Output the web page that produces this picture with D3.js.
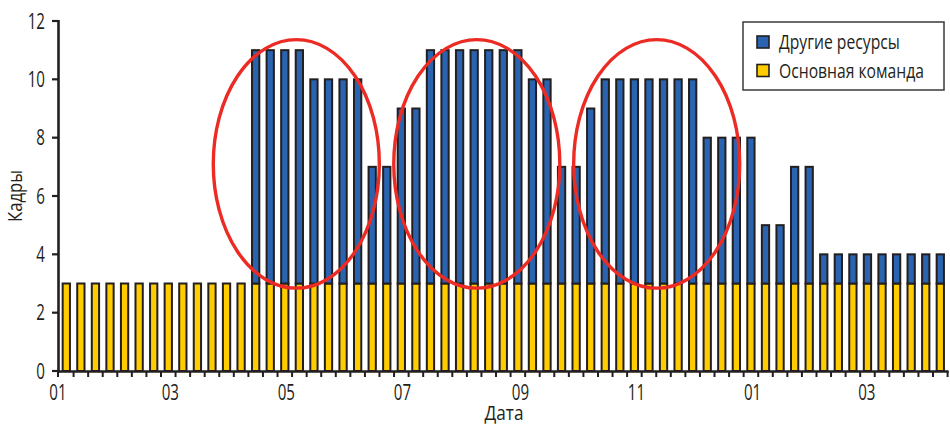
<!DOCTYPE html>
<html>
<head>
<meta charset="utf-8">
<script src="https://cdn.jsdelivr.net/npm/d3@7"></script>
<style>
  html, body { margin: 0; padding: 0; background: #fff; }
  svg { display: block; }
  text { font-family: "Open Sans", "Noto Sans", sans-serif; font-weight: 500; fill: #231f20; }
</style>
</head>
<body>
<svg id="chart" width="950" height="425"></svg>
<script>
// Weekly staffing: core team plus other resources, stacked.
const weeks = d3.range(1, 62);   // week numbers 1..61

const coreTeam = [
  3, 3, 3, 3, 3, 3, 3, 3, 3, 3, 3, 3, 3,
  3, 3, 3, 3, 3, 3, 3, 3, 3, 3, 3, 3, 3,
  3, 3, 3, 3, 3, 3, 3, 3, 3, 3, 3, 3, 3,
  3, 3, 3, 3, 3, 3, 3, 3, 3, 3, 3, 3, 3,
  3, 3, 3, 3, 3, 3, 3, 3, 3
];

const otherResources = [
  0, 0, 0, 0, 0, 0, 0, 0, 0, 0, 0, 0, 0,
  8, 8, 8, 8,
  7, 7, 7, 7,
  4, 4,
  6, 6,
  8, 8, 8, 8, 8, 8, 8,
  7, 7,
  4, 4,
  6,
  7, 7, 7, 7, 7, 7, 7,
  5, 5, 5, 5,
  2, 2,
  4, 4,
  1, 1, 1, 1, 1, 1, 1, 1, 1
];

const seriesNames = ["Другие ресурсы", "Основная команда"];
const seriesColors = ["#2a64b0", "#ffcc00"];

const yTicks = [0, 2, 4, 6, 8, 10, 12];
const monthTicks = ["2011-01-01", "2011-03-01", "2011-05-01", "2011-07-01",
                    "2011-09-01", "2011-11-01", "2012-01-01", "2012-03-01"];
const monthLabels = ["01", "03", "05", "07", "09", "11", "01", "03"];
const timeSpan = ["2011-01-01", "2012-04-13"];

// Highlight ellipses: centre in bar units, centre/radius in staff units.
const highlightCenterBar = [15.79, 28.18, 40.53];
const highlightRadiusBars = [5.7, 5.7, 5.7];
const highlightCenterValue = [7.1, 7.1, 7.1];
const highlightRadiusValue = [4.26, 4.26, 4.26];

(function draw() {
  const svg = d3.select("#chart");
  const plotLeft = 58, plotRight = 948.6, plotTop = 21, plotBottom = 371;
  const ink = "#231f20";
  const narrow = 0.72;   // horizontal squeeze for a condensed look

  // Place a text at (px, py), squeezed horizontally around its anchor
  function place(sel, px, py, sx, rot) {
    return sel.attr("x", 0).attr("y", 0)
      .attr("transform", (d, i) => {
        const X = typeof px === "function" ? px(d, i) : px;
        const Y = typeof py === "function" ? py(d, i) : py;
        return `translate(${X},${Y})` + (rot ? ` rotate(${rot})` : "") + ` scale(${sx},1)`;
      });
  }
  // Squeeze a text so that it spans the given width
  function fitWidth(sel, px, py, width, rot) {
    sel.each(function (d, i) {
      const node = this;
      const w = typeof width === "function" ? width(d, i) : width;
      const natural = node.getComputedTextLength() || w;
      place(d3.select(node), px, py, w / natural, rot);
    });
    return sel;
  }

  const x = d3.scaleBand().domain(weeks).range([plotLeft, plotRight])
    .paddingInner(0.5).paddingOuter(0.32);
  const y = d3.scaleLinear().domain([0, 12]).range([plotBottom, plotTop]);
  const parse = d3.timeParse("%Y-%m-%d");
  const xTime = d3.scaleTime().domain(timeSpan.map(parse)).range([plotLeft, plotRight]);
  const barUnit = d3.scaleLinear().domain([0, 1])
    .range([x(weeks[0]) + x.bandwidth() / 2, x(weeks[1]) + x.bandwidth() / 2]);

  const rows = weeks.map((w, i) => ({ week: w, core: coreTeam[i], other: otherResources[i] }));
  const stack = d3.stack().keys(["core", "other"])(rows);

  // Bars (core team at the bottom, other resources on top)
  const layerColor = { core: seriesColors[1], other: seriesColors[0] };
  svg.append("g").selectAll("g").data(stack).join("g")
    .attr("fill", d => layerColor[d.key])
    .selectAll("rect")
    .data(d => d.filter(s => s[1] > s[0]))
    .join("rect")
    .attr("x", d => x(d.data.week))
    .attr("y", d => y(d[1]))
    .attr("width", x.bandwidth())
    .attr("height", d => y(d[0]) - y(d[1]))
    .attr("stroke", ink)
    .attr("stroke-width", 2);

  // Y axis
  const yAxis = svg.append("g");
  yAxis.append("line")
    .attr("x1", plotLeft + 0.5).attr("x2", plotLeft + 0.5)
    .attr("y1", plotTop - 1).attr("y2", plotBottom + 1.5)
    .attr("stroke", ink).attr("stroke-width", 2.6);
  yAxis.selectAll("line.tick").data(yTicks).join("line")
    .attr("class", "tick")
    .attr("x1", plotLeft - 6).attr("x2", plotLeft)
    .attr("y1", d => y(d)).attr("y2", d => y(d))
    .attr("stroke", ink).attr("stroke-width", 2.2);
  place(yAxis.selectAll("text").data(yTicks).join("text"), 45, d => y(d) + 7.5, narrow)
    .attr("text-anchor", "end")
    .attr("font-size", 21)
    .text(d => d);

  // X axis: one tick between neighbouring bars, month labels every two months
  const xAxis = svg.append("g");
  xAxis.append("line")
    .attr("x1", plotLeft - 0.8).attr("x2", plotRight)
    .attr("y1", plotBottom + 0.5).attr("y2", plotBottom + 0.5)
    .attr("stroke", ink).attr("stroke-width", 2.6);
  const gap = x.step() - x.bandwidth();
  const tickXs = [plotLeft].concat(weeks.slice(1).map(w => x(w) - gap / 2), [plotRight - 1]);
  xAxis.selectAll("line.tick").data(tickXs).join("line")
    .attr("class", "tick")
    .attr("x1", d => d).attr("x2", d => d)
    .attr("y1", plotBottom).attr("y2", plotBottom + 6)
    .attr("stroke", ink).attr("stroke-width", 2);
  place(xAxis.selectAll("text").data(monthTicks).join("text"), d => xTime(parse(d)), 400, narrow)
    .attr("text-anchor", "middle")
    .attr("font-size", 21)
    .text((d, i) => monthLabels[i]);

  // Axis titles
  fitWidth(svg.append("text")
    .attr("text-anchor", "middle").attr("font-size", 20)
    .text("Дата"), 504, 420, 39);
  fitWidth(svg.append("text")
    .attr("text-anchor", "middle").attr("font-size", 20)
    .text("Кадры"), 22, 196, 52, -90);

  // Highlight ellipses
  const pxPerValue = y(0) - y(1);
  svg.append("g").selectAll("ellipse").data(highlightCenterBar).join("ellipse")
    .attr("cx", d => barUnit(d))
    .attr("cy", (d, i) => y(highlightCenterValue[i]))
    .attr("rx", (d, i) => barUnit(highlightRadiusBars[i]) - barUnit(0))
    .attr("ry", (d, i) => highlightRadiusValue[i] * pxPerValue)
    .attr("fill", "none")
    .attr("stroke", "#ec2b24")
    .attr("stroke-width", 3.4);

  // Legend
  const legend = svg.append("g");
  legend.append("rect")
    .attr("x", 743).attr("y", 22).attr("width", 201).attr("height", 68)
    .attr("fill", "#fff").attr("stroke", "#3a3a3a").attr("stroke-width", 1.5);
  const item = legend.selectAll("g").data(seriesNames).join("g")
    .attr("transform", (d, i) => `translate(757,${36 + i * 28.5})`);
  item.append("rect")
    .attr("width", 12).attr("height", 12)
    .attr("fill", (d, i) => seriesColors[i])
    .attr("stroke", ink).attr("stroke-width", 1.6);
  fitWidth(item.append("text")
    .attr("font-size", 20)
    .text(d => d), 22, 13, (d, i) => [121, 145][i]);
})();
</script>
</body>
</html>
